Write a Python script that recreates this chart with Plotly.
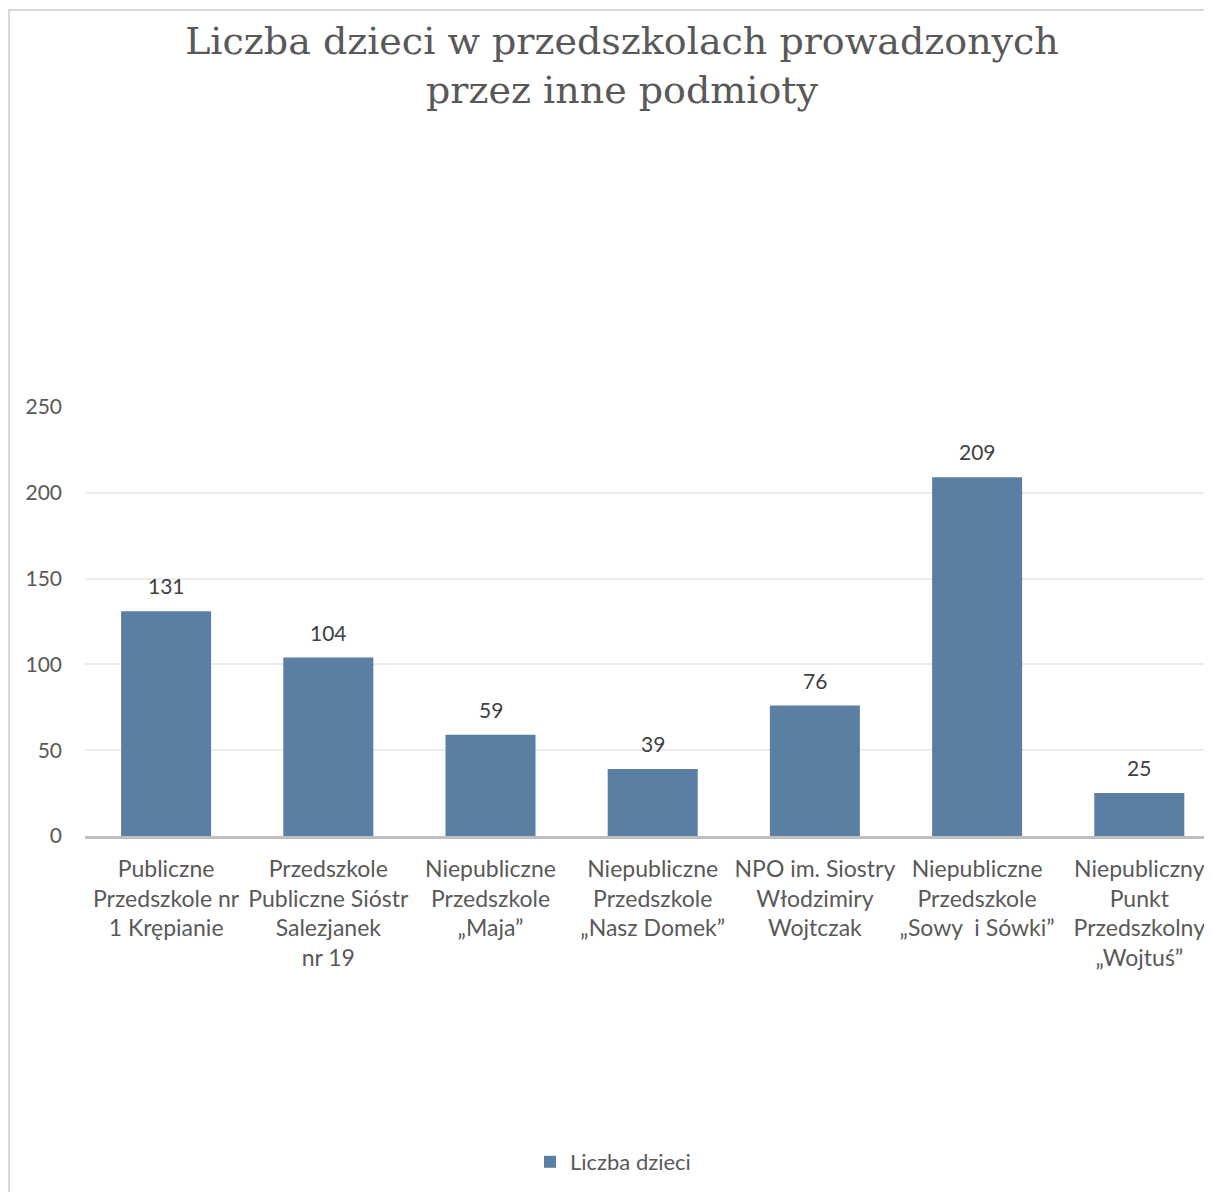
import plotly.graph_objects as go

categories = [
    "Publiczne<br>Przedszkole nr<br>1 Krępianie",
    "Przedszkole<br>Publiczne Sióstr<br>Salezjanek<br>nr 19",
    "Niepubliczne<br>Przedszkole<br>„Maja”",
    "Niepubliczne<br>Przedszkole<br>„Nasz Domek”",
    "NPO im. Siostry<br>Włodzimiry<br>Wojtczak",
    "Niepubliczne<br>Przedszkole<br>„Sowy  i Sówki”",
    "Niepubliczny<br>Punkt<br>Przedszkolny<br>„Wojtuś”",
]
values = [131, 104, 59, 39, 76, 209, 25]
series_name = "Liczba dzieci"
y_ticks = [0, 50, 100, 150, 200, 250]

# page has an 8px body margin, so the figure is 8px smaller than the window
W, H = 1204, 1184
L, R, T, B = 77, 0, 399, 356
pw, ph = W - L - R, H - T - B

def px_x(px):
    return (px - L) / pw

def px_y(py):
    return (H - B - py) / ph

fig = go.Figure()
fig.add_trace(go.Bar(
    x=categories, y=values, name=series_name,
    marker=dict(color="#5B7FA3", line=dict(width=0)),
    showlegend=True,
))

annotations = [
    dict(x=c, y=v, xref="x", yref="y", text=str(v), showarrow=False,
         yanchor="bottom", yshift=11,
         font=dict(family="Lato", size=21, color="#404040"))
    for c, v in zip(categories, values)
]

fig.update_layout(
    width=W, height=H,
    margin=dict(l=L, r=R, t=T, b=B, autoexpand=False),
    paper_bgcolor="white", plot_bgcolor="white",
    bargap=0.445,
    title=dict(
        text="Liczba dzieci w przedszkolach prowadzonych<br>przez inne podmioty",
        font=dict(family="DejaVu Serif", size=38, color="#595959"),
        x=614 / W, xanchor="center", xref="container",
        y=1 - 46 / H, yanchor="top", yref="container",
    ),
    font=dict(family="Lato", size=20, color="#595959"),
    showlegend=True,
    legend=dict(
        orientation="h", x=px_x(605), xanchor="center",
        y=px_y(1154), yanchor="middle",
        font=dict(family="Lato", size=22, color="#595959"),
    ),
    annotations=annotations,
    shapes=[dict(
        type="rect", xref="paper", yref="paper",
        x0=px_x(1), x1=px_x(1300), y0=px_y(1300), y1=px_y(2),
        line=dict(color="#d9d9d9", width=2), fillcolor="rgba(0,0,0,0)",
        layer="below",
    )],
)

fig.update_xaxes(
    range=[-0.5, -0.5 + pw / 162.2],
    showline=True, linecolor="#bfbfbf", linewidth=3,
    showgrid=False, ticks="", ticklabelstandoff=10,
    tickfont=dict(family="Lato", size=23, color="#595959"),
)
fig.update_yaxes(
    range=[0, 250], tickvals=y_ticks,
    showgrid=True, gridcolor="#ececec", gridwidth=2,
    zeroline=False, showline=False, ticks="",
    ticklabelstandoff=22,
    tickfont=dict(family="Lato", size=21, color="#595959"),
)

fig.write_html("out.html")
